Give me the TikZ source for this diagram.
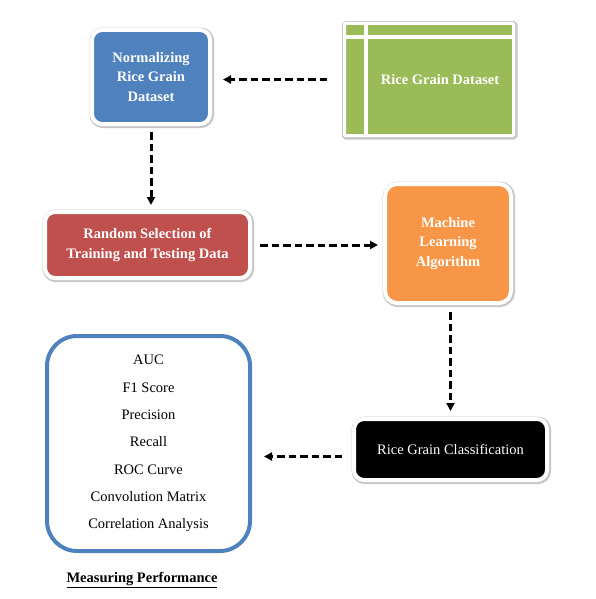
\documentclass[tikz,border=0pt]{standalone}
\usepackage{fontspec}
\setmainfont{Liberation Serif}
\usetikzlibrary{shapes,arrows.meta,positioning,calc,shadows}

\definecolor{normblue}{HTML}{4F81BD}
\definecolor{randred}{HTML}{C0504D}
\definecolor{mlorange}{HTML}{F79646}
\definecolor{datagreen}{HTML}{9BBB59}

\begin{document}
\begin{tikzpicture}[x=1pt, y=-1pt,
    box/.style={rectangle, rounded corners=10pt, draw=white, line width=4pt, inner sep=0pt, text=white, align=center,
        font=\fontsize{14.5}{19.5}\selectfont\bfseries,
        preaction={draw=black!22, line width=6.5pt, transform canvas={xshift=0.8pt, yshift=-0.8pt}}},
    flow/.style={line width=3pt, dash pattern=on 7.5pt off 4pt, -{Triangle[length=8pt, width=8pt]}}]
    \useasboundingbox (0,0) rectangle (596,599);
    \fill[white] (0,0) rectangle (596,599);

    % Input
    \node[box, fill=datagreen, line width=3pt, rounded corners=1pt, minimum width=169pt, minimum height=112pt] (data) at (429,79.5) {\hspace*{22pt}Rice Grain Dataset};
    \draw[white, line width=3.5pt] ([xshift=23pt]data.north west) -- ([xshift=23pt]data.south west);
    \draw[white, line width=3.5pt] ([yshift=-15pt]data.north west) -- ([yshift=-15pt]data.north east);

    % Preprocessing
    \node[box, fill=normblue, minimum width=118pt, minimum height=94pt] (norm) at (151,77) {Normalizing\\Rice Grain\\Dataset};
    \node[box, fill=randred, minimum width=205pt, minimum height=66pt] (rand) at (147.5,245) {Random Selection of\\Training and Testing Data};

    % Model
    \node[box, fill=mlorange, rounded corners=12pt, minimum width=126pt, minimum height=119pt] (ml) at (448,243.5) {Machine\\Learning\\Algorithm};
    \node[box, fill=black, font=\fontsize{14.5}{19.5}\selectfont, minimum width=193pt, minimum height=61pt] (cls) at (450.5,449.5) {Rice Grain Classification};

    % Evaluation
    \node[rectangle, rounded corners=30pt, draw=normblue, line width=4pt, fill=white, inner sep=0pt, align=center,
        minimum width=203pt, minimum height=215pt, font=\fontsize{14.5}{27.3}\selectfont] (meas) at (148.5,443.5)
        {AUC\\F1 Score\\Precision\\Recall\\ROC Curve\\Convolution Matrix\\Correlation Analysis};
    \node[font=\fontsize{14.5}{17}\selectfont\bfseries] (perf) at (142,580) {\underline{Measuring Performance}};

    % Arrows
    \draw[flow, shorten <=16pt, shorten >=11pt] (data.west) -- (data.west -| norm.east);
    \draw[flow, shorten <=6pt, shorten >=5pt] (norm.south) -- (norm.south |- rand.north);
    \draw[flow, shorten <=8pt, shorten >=5pt] (rand.east) -- (rand.east -| ml.west);
    \draw[flow, shorten <=7pt, shorten >=6pt] (ml.south -| cls.north) -- (cls.north);
    \draw[flow, shorten <=10pt, shorten >=12pt] ([yshift=-7pt]cls.west) -- ([yshift=-7pt]cls.west -| meas.east);
\end{tikzpicture}
\end{document}
